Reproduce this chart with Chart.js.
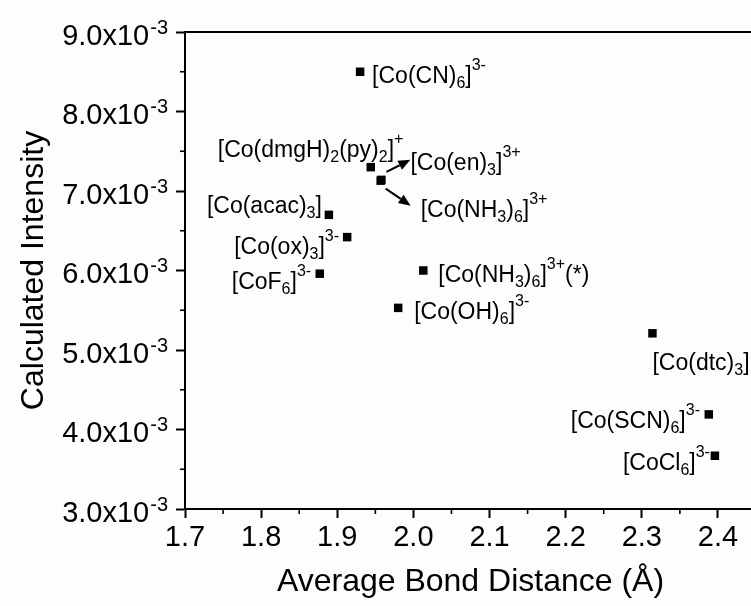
<!DOCTYPE html>
<html>
<head>
<meta charset="utf-8">
<script src="https://cdn.jsdelivr.net/npm/chart.js@4.4.1/dist/chart.umd.min.js"></script>
<style>
html,body{margin:0;padding:0;background:#fdfdfb;overflow:hidden}
#wrap{width:751px;height:606px;position:relative;overflow:hidden}
</style>
</head>
<body>
<div id="wrap"><canvas id="c" width="762" height="606"></canvas></div>
<script>
// ---- data ----
const compounds = [
  "[Co(CN)_6]^{3-}",
  "[Co(dmgH)_2(py)_2]^{+}",
  "[Co(en)_3]^{3+}",
  "[Co(NH_3)_6]^{3+}",
  "[Co(acac)_3]",
  "[Co(ox)_3]^{3-}",
  "[CoF_6]^{3-}",
  "[Co(NH_3)_6]^{3+}(*)",
  "[Co(OH)_6]^{3-}",
  "[Co(dtc)_3]",
  "[Co(SCN)_6]^{3-}",
  "[CoCl_6]^{3-}"
];
const bondDistance = [1.930, 1.944, 1.958, 1.957, 1.889, 1.913, 1.877, 2.013, 1.980, 2.314, 2.388, 2.396];
const intensity = [8.50e-3, 7.30e-3, 7.14e-3, 7.13e-3, 6.70e-3, 6.42e-3, 5.96e-3, 6.00e-3, 5.53e-3, 5.21e-3, 4.19e-3, 3.67e-3];
const xTickLabels = ["1.7", "1.8", "1.9", "2.0", "2.1", "2.2", "2.3", "2.4"];
const yTickMantissas = ["3.0", "4.0", "5.0", "6.0", "7.0", "8.0", "9.0"];
const yTickExponent = "-3";
const xTitle = "Average Bond Distance (\u00C5)";
const yTitle = "Calculated Intensity";

// ---- styles (label placement relative to marker, in px) ----
const labelOffsets = [
  [12, 11], [-153, -10], [29, -10], [40, 36], [-122, -2], [-113, 17],
  [-88, 15], [15, 11.5], [16, 11.5], [0, 37], [-138, 14], [-92, 14]
];
const arrowOffsets = { 2: [5, -8, 29, -20], 3: [5, 8, 30, 25] };

const FONT = "'Liberation Sans', Arial, Helvetica, sans-serif";

function parseLabel(s) {
  const segs = [];
  let i = 0, cur = "";
  while (i < s.length) {
    const ch = s[i];
    if (ch === "_" || ch === "^") {
      if (cur) { segs.push({t: cur, k: "n"}); cur = ""; }
      let txt;
      if (s[i + 1] === "{") {
        const j = s.indexOf("}", i + 2);
        txt = s.slice(i + 2, j);
        i = j + 1;
      } else { txt = s[i + 1]; i += 2; }
      segs.push({t: txt, k: ch === "_" ? "sub" : "sup"});
    } else { cur += ch; i++; }
  }
  if (cur) segs.push({t: cur, k: "n"});
  return segs;
}

const annotatePlugin = {
  id: "annotate",
  afterDraw(chart) {
    const ctx = chart.ctx;
    const xs = chart.scales.x, ys = chart.scales.y;
    const ca = chart.chartArea;
    ctx.save();
    ctx.strokeStyle = "#000";
    ctx.fillStyle = "#000";
    // top frame line
    ctx.lineWidth = 2;
    ctx.beginPath();
    ctx.moveTo(ca.left - 1, ca.top);
    ctx.lineTo(ca.right, ca.top);
    ctx.stroke();
    // minor ticks
    ctx.lineWidth = 1.6;
    for (let i = 0; i < xs.ticks.length; i++) {
      const v = xs.ticks[i].value + 0.05;
      if (v > xs.max) continue;
      const px = xs.getPixelForValue(v);
      ctx.beginPath(); ctx.moveTo(px, ca.bottom); ctx.lineTo(px, ca.bottom + 5); ctx.stroke();
    }
    for (let i = 0; i < ys.ticks.length - 1; i++) {
      const v = ys.ticks[i].value + 0.0005;
      const py = ys.getPixelForValue(v);
      ctx.beginPath(); ctx.moveTo(ca.left, py); ctx.lineTo(ca.left - 5, py); ctx.stroke();
    }
    // y tick labels with superscript exponent
    ctx.textBaseline = "alphabetic";
    ys.ticks.forEach((t, i) => {
      const py = ys.getPixelForValue(t.value);
      ctx.font = "20px " + FONT;
      const supW = ctx.measureText(yTickExponent).width;
      const supRight = ca.left - 17;
      ctx.textAlign = "right";
      ctx.fillText(yTickExponent, supRight, py + 1.5);
      ctx.font = "29px " + FONT;
      ctx.fillText(yTickMantissas[i] + "x10", supRight - supW - 1, py + 12.5);
    });
    // data labels and arrows
    ctx.textAlign = "left";
    compounds.forEach((name, i) => {
      const px = xs.getPixelForValue(bondDistance[i]);
      const py = ys.getPixelForValue(intensity[i]);
      let x = px + labelOffsets[i][0];
      const base = py + labelOffsets[i][1];
      parseLabel(name).forEach(seg => {
        let dy = 0;
        if (seg.k === "n") ctx.font = "23px " + FONT;
        else { ctx.font = "16px " + FONT; dy = seg.k === "sub" ? 5 : -13; }
        ctx.fillText(seg.t, x, base + dy);
        x += ctx.measureText(seg.t).width;
      });
      const a = arrowOffsets[i];
      if (a) {
        const x0 = px + a[0], y0 = py + a[1], x1 = px + a[2], y1 = py + a[3];
        const ang = Math.atan2(y1 - y0, x1 - x0);
        const hl = 12, hw = 5;
        const bx = x1 - hl * Math.cos(ang), by = y1 - hl * Math.sin(ang);
        ctx.lineWidth = 2;
        ctx.beginPath(); ctx.moveTo(x0, y0); ctx.lineTo(bx, by); ctx.stroke();
        ctx.beginPath();
        ctx.moveTo(x1, y1);
        ctx.lineTo(bx + hw * Math.sin(ang), by - hw * Math.cos(ang));
        ctx.lineTo(bx - hw * Math.sin(ang), by + hw * Math.cos(ang));
        ctx.closePath();
        ctx.fill();
      }
    });
    ctx.restore();
  }
};

Chart.defaults.font.family = FONT;
Chart.defaults.color = "#000";

new Chart(document.getElementById("c"), {
  type: "scatter",
  data: {
    datasets: [{
      data: bondDistance.map((x, i) => ({x: x, y: intensity[i]})),
      pointStyle: "rect",
      pointRadius: 6,
      pointHoverRadius: 6,
      backgroundColor: "#000",
      borderWidth: 0
    }]
  },
  options: {
    responsive: false,
    devicePixelRatio: 1,
    animation: false,
    layout: {padding: {top: 32, right: 0, left: 0, bottom: 0}},
    plugins: {legend: {display: false}, tooltip: {enabled: false}},
    scales: {
      x: {
        type: "linear",
        min: 1.7,
        max: 2.45,
        afterFit(s) { s.height = 97; },
        ticks: {
          stepSize: 0.1,
          includeBounds: false,
          autoSkip: false,
          maxRotation: 0,
          padding: 3,
          color: "#000",
          font: {size: 29, family: FONT},
          callback: (v, i) => xTickLabels[i]
        },
        grid: {drawOnChartArea: false, tickLength: 9, tickWidth: 2, tickColor: "#000"},
        border: {color: "#000", width: 2},
        title: {display: true, text: xTitle, color: "#000", font: {size: 32, family: FONT}, padding: {top: 0, bottom: 5}}
      },
      y: {
        type: "linear",
        min: 0.003,
        max: 0.009,
        afterFit(s) { s.width = 185; },
        ticks: {stepSize: 0.001, display: false},
        grid: {drawOnChartArea: false, tickLength: 9, tickWidth: 2, tickColor: "#000"},
        border: {color: "#000", width: 2},
        title: {display: true, text: yTitle, color: "#000", font: {size: 32, family: FONT}, padding: {top: 15, bottom: 0}}
      }
    }
  },
  plugins: [annotatePlugin]
});
</script>
</body>
</html>
